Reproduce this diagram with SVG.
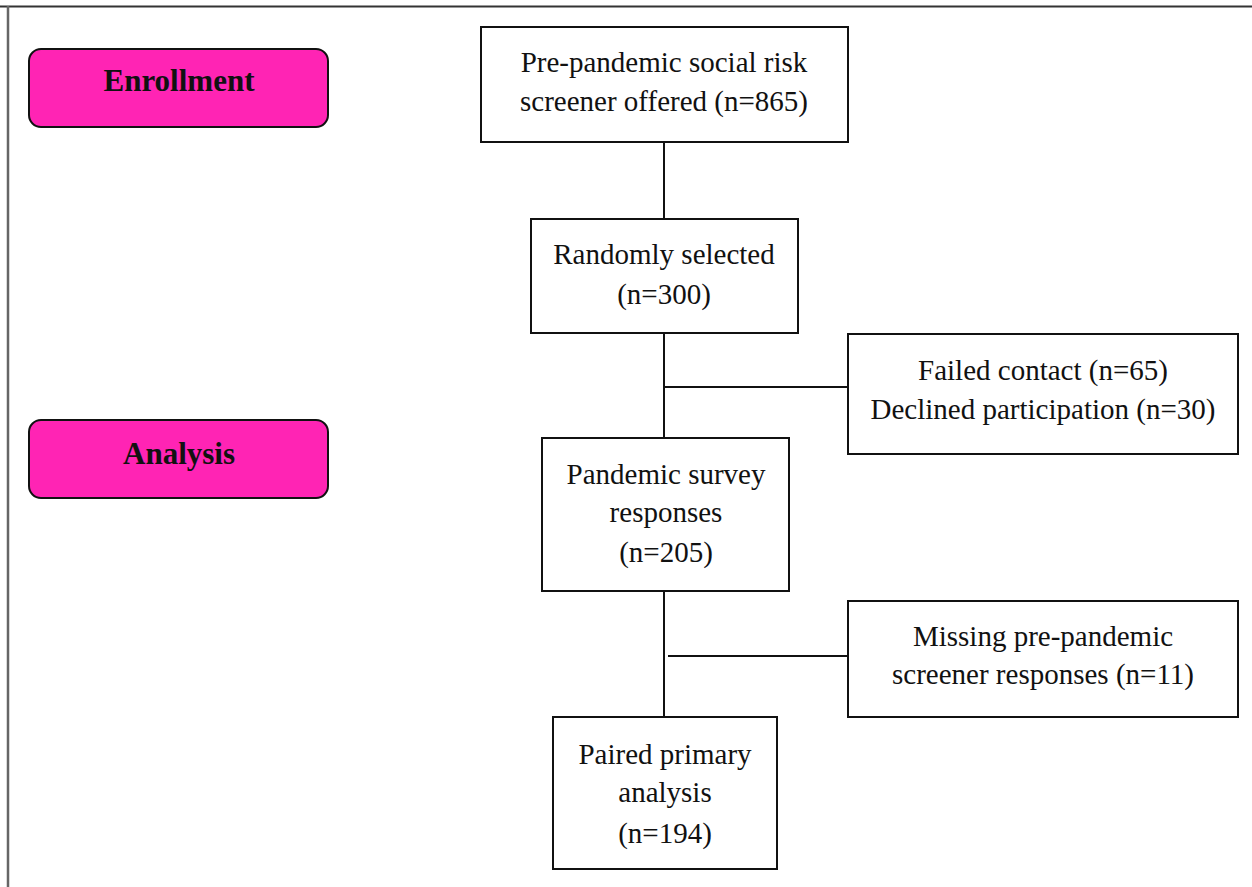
<svg xmlns="http://www.w3.org/2000/svg" width="1252" height="887" viewBox="0 0 1252 887">
<style>
.box{fill:#fff;stroke:#111;stroke-width:2}
.stage{fill:#ff24b4;stroke:#111;stroke-width:2}
.t{font-family:"Liberation Serif","Times New Roman",serif;font-size:29px;fill:#111;text-anchor:middle}
.b{font-family:"Liberation Serif","Times New Roman",serif;font-size:31px;font-weight:bold;fill:#111;text-anchor:middle}
.ln{stroke:#111;stroke-width:2;fill:none}
</style>
<rect width="1252" height="887" fill="#fff"/>
<g id="frame">
<line x1="0" y1="6.5" x2="1252" y2="6.5" stroke="#333" stroke-width="2"/>
<line x1="8" y1="6" x2="8" y2="887" stroke="#666" stroke-width="2.5"/>
</g>
<g id="connectors">
<line class="ln" x1="664" y1="142" x2="664" y2="219"/>
<line class="ln" x1="664" y1="333" x2="664" y2="438"/>
<line class="ln" x1="664" y1="387" x2="848" y2="387"/>
<line class="ln" x1="664" y1="591" x2="664" y2="717"/>
<line class="ln" x1="668" y1="656" x2="848" y2="656"/>
</g>
<g id="enrollment">
<rect class="stage" x="29" y="49" width="299" height="78" rx="12"/>
<text class="b" x="179" y="91">Enrollment</text>
</g>
<g id="analysis">
<rect class="stage" x="29" y="420" width="299" height="78" rx="12"/>
<text class="b" x="179" y="464">Analysis</text>
</g>
<g id="n1">
<rect class="box" x="481" y="27" width="367" height="115"/>
<text class="t" x="664" y="72">Pre-pandemic social risk</text>
<text class="t" x="664" y="111">screener offered (n=865)</text>
</g>
<g id="n2">
<rect class="box" x="531" y="219" width="267" height="114"/>
<text class="t" x="664" y="264">Randomly selected</text>
<text class="t" x="664" y="304">(n=300)</text>
</g>
<g id="n3">
<rect class="box" x="848" y="334" width="390" height="120"/>
<text class="t" x="1043" y="380">Failed contact (n=65)</text>
<text class="t" x="1043" y="419">Declined participation (n=30)</text>
</g>
<g id="n4">
<rect class="box" x="542" y="438" width="247" height="153"/>
<text class="t" x="666" y="484">Pandemic survey</text>
<text class="t" x="666" y="522">responses</text>
<text class="t" x="666" y="562">(n=205)</text>
</g>
<g id="n5">
<rect class="box" x="848" y="601" width="390" height="116"/>
<text class="t" x="1043" y="646">Missing pre-pandemic</text>
<text class="t" x="1043" y="684">screener responses (n=11)</text>
</g>
<g id="n6">
<rect class="box" x="553" y="717" width="224" height="152"/>
<text class="t" x="665" y="764">Paired primary</text>
<text class="t" x="665" y="802">analysis</text>
<text class="t" x="665" y="843">(n=194)</text>
</g>
</svg>
